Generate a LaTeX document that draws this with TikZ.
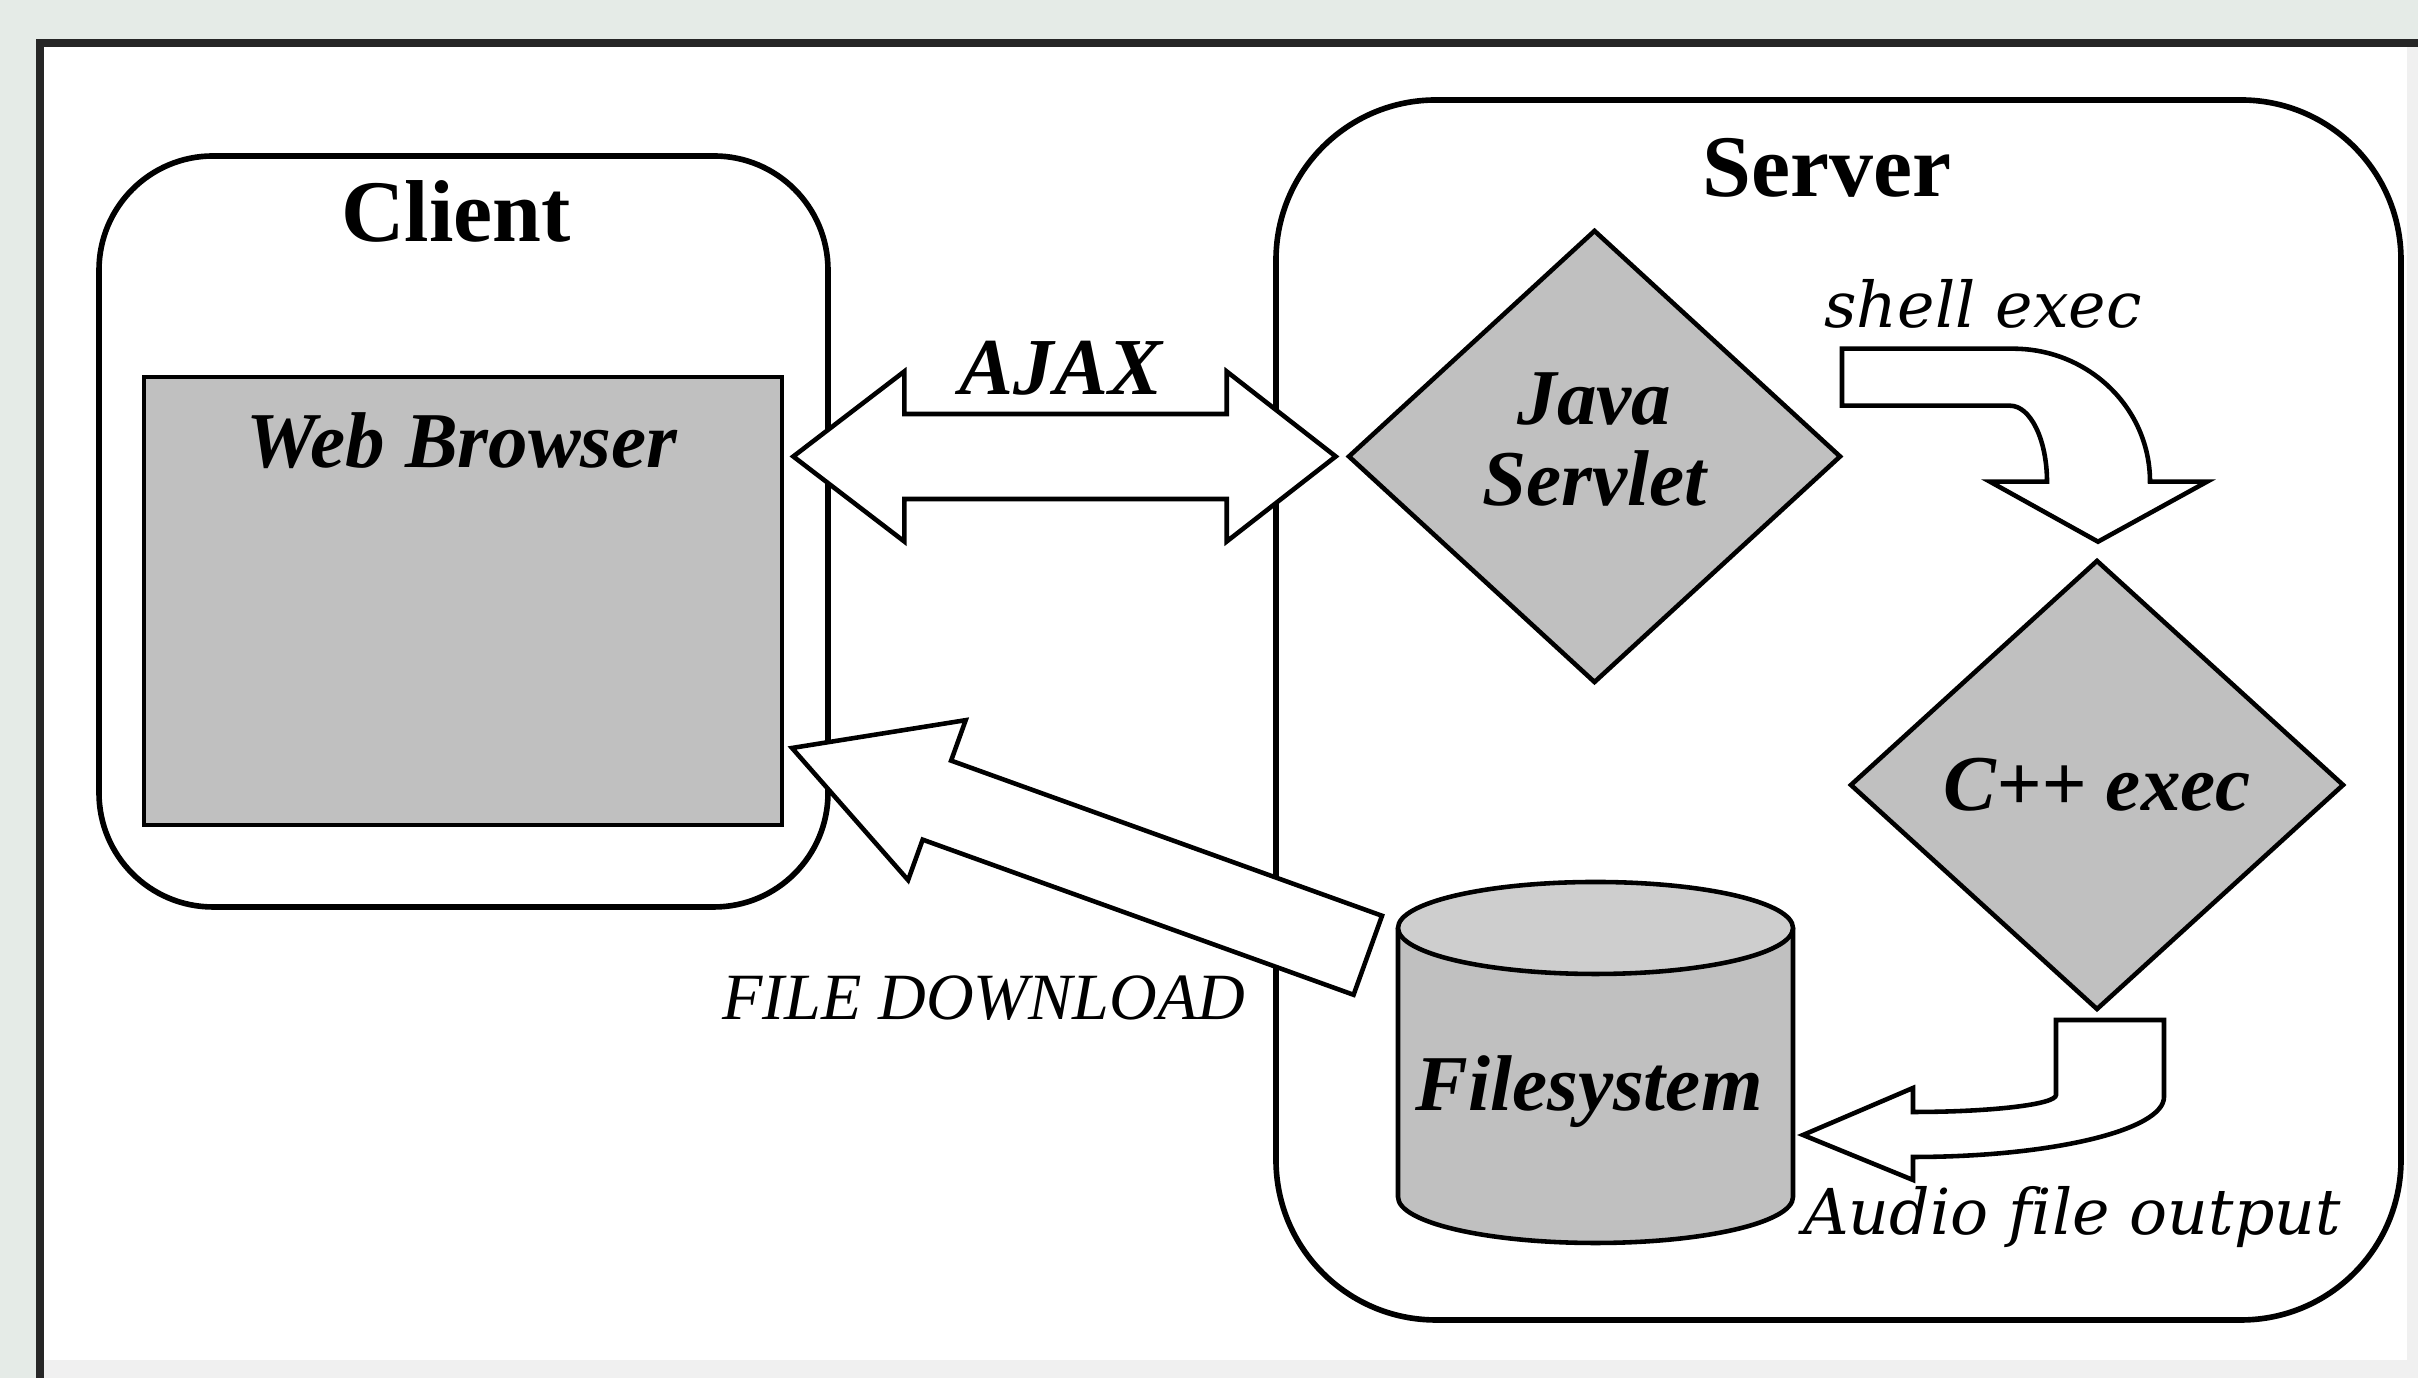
\documentclass[tikz,border=0pt]{standalone}
\usepackage{fontspec}
\setmainfont{Liberation Serif}
\newfontfamily\slabfont[Ligatures=NoCommon]{DejaVu Serif}
\usetikzlibrary{calc, positioning, shapes.geometric}
\definecolor{boxgray}{RGB}{192,192,192}
\definecolor{topgray}{RGB}{206,206,206}
\definecolor{backdrop}{RGB}{229,235,231}

\begin{document}
\begin{tikzpicture}[grp/.style={draw, line width=1.6pt, rounded corners=#1},
  titl/.style={font=\fontsize{25}{30}\selectfont\bfseries, anchor=base, inner sep=0pt},
  bi/.style={font=\fontsize{22.5}{23}\selectfont\bfseries\itshape},
  proc/.style={draw, diamond, fill=boxgray, line width=1.3pt, inner sep=0pt, align=center, bi},
  blk/.style={draw, fill=white, line width=1.3pt, line join=miter},
  note/.style={font=\fontsize{18}{20}\selectfont\slabfont\itshape, anchor=base, inner sep=0pt}]
\useasboundingbox (0,0) rectangle (24.18,13.78);
% backdrop and white sheet
\fill[backdrop] (0,0) rectangle (24.18,13.78);
\fill[black!6] (0.40,0) rectangle (24.18,13.35);
\fill[white] (0.40,0.18) rectangle (24.07,13.35);
\draw[line width=2.1pt, black!85] (0.40,0) -- (0.40,13.35) -- (24.18,13.35);

% the two sides
\node[grp=1.14cm, minimum width=7.29cm, minimum height=7.51cm] (client) at (4.635,8.465) {};
\node[grp=1.6cm, minimum width=11.25cm, minimum height=12.20cm] (server) at (18.385,6.68) {};
\node[titl] (client title) at (4.56,11.36) {Client};
\node[titl] (server title) at (18.27,11.81) {Server};

\node[draw, fill=boxgray, line width=1.3pt, minimum width=6.38cm, minimum height=4.48cm] (browser) at (4.63,7.77) {};
\node[bi, anchor=base, inner sep=0pt] (browser title) at (4.62,9.10) {Web Browser};

\node[proc, minimum width=4.93cm, minimum height=4.53cm, text depth=0.34cm] (servlet) at (15.945,9.215) {Java\\Servlet};
\node[proc, minimum width=4.94cm, minimum height=4.50cm] (cpp) at (20.97,5.93) {C++ exec};

% filesystem drum
\draw[line width=1.3pt, fill=boxgray] (13.98,4.50) -- (13.98,1.81) arc[start angle=180, end angle=360, x radius=1.975, y radius=0.46] -- (17.93,4.50);
\draw[line width=1.3pt, fill=topgray] (15.955,4.50) ellipse [x radius=1.975, y radius=0.46];
\node[bi, anchor=base, inner sep=0pt] (fs) at (15.89,2.67) {Filesystem};

% AJAX
\coordinate (ajax l) at ($(browser.east |- servlet.west)+(0.09,0)$);
\coordinate (ajax r) at ($(servlet.west)+(-0.10,0)$);
\draw[blk] (ajax l) -- ++(1.11,0.85) -- ++(0,-0.425) -- ($(ajax r)+(-1.09,0.425)$) -- ++(0,0.425) -- (ajax r)
  -- ++(-1.09,-0.85) -- ++(0,0.425) -- ($(ajax l)+(1.11,-0.425)$) -- ++(0,-0.425) -- cycle;
\node[bi, anchor=base, inner sep=0pt, font=\fontsize{23}{25}\selectfont\bfseries\itshape] (ajax) at (10.61,9.83) {AJAX};

% download back to the browser
\coordinate (dl tip) at (7.92,6.30);
\begin{scope}[shift={(dl tip)}, rotate=-19.8]
\draw[blk] (0,0) -- (1.54,0.85) -- (1.54,0.42) -- (6.12,0.42) -- (6.12,-0.42) -- (1.54,-0.42) -- (1.54,-0.85) -- cycle;
\end{scope}
\node[font=\fontsize{18.8}{20}\selectfont\itshape, anchor=base, inner sep=0pt] (download) at (9.84,3.58) {FILE DOWNLOAD};

% servlet calls the executable
\coordinate (sh tip) at ($(cpp.north)+(0.01,0.16)$);
\draw[blk] (sh tip) -- ++(1.09,0.60) -- ++(-0.57,0) arc[start angle=0, end angle=90, x radius=1.37, y radius=1.33]
  -- ++(-1.71,0) -- ++(0,-0.57) -- ++(1.68,0) arc[start angle=90, end angle=0, x radius=0.37, y radius=0.76]
  -- ++(-0.57,0) -- cycle;
\node[note] (shell) at (19.83,10.50) {shell exec};

% executable writes the audio file
\coordinate (au tip) at (18.03,2.43);
\draw[blk] (au tip) -- ++(1.10,0.47) -- ++(0,-0.24) arc[start angle=-90, end angle=0, x radius=1.43, y radius=0.17]
  -- ++(0,0.75) -- ++(1.08,0) -- ++(0,-0.77) arc[start angle=0, end angle=-90, x radius=2.51, y radius=0.60]
  -- ++(0,-0.23) -- cycle;
\node[note] (audio) at (20.72,1.43) {Audio file output};
\end{tikzpicture}
\end{document}
